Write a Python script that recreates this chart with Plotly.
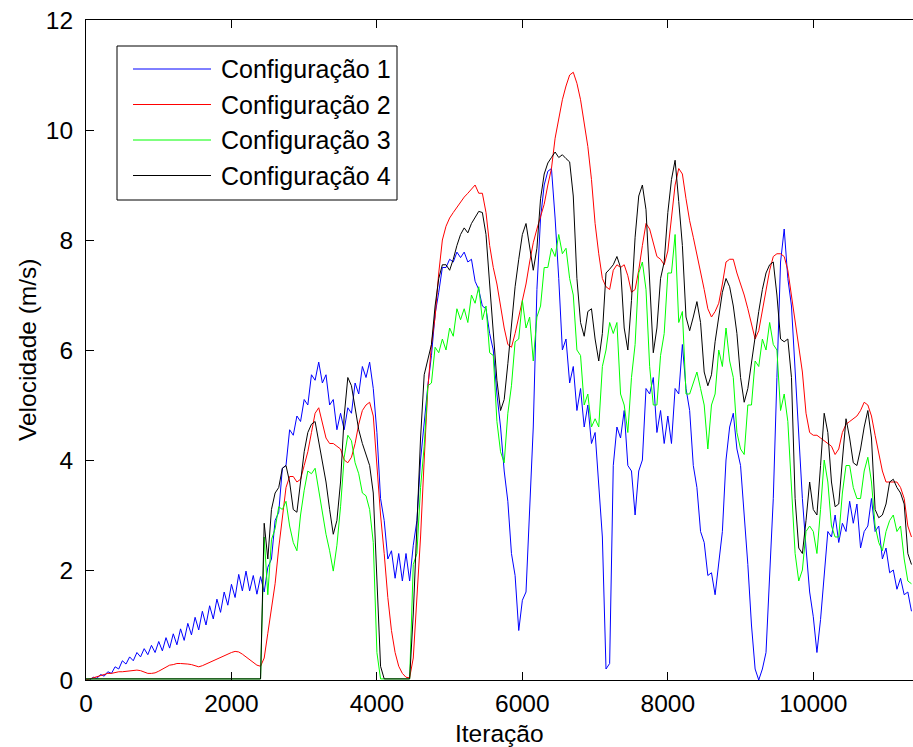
import plotly.graph_objects as go

# ---------------- data ----------------
iteracao = list(range(0, 11351, 50))  # 228 samples

config1 = [
    0.00, 0.00, 0.05, 0.03, 0.10, 0.07, 0.15, 0.12, 0.24, 0.20, 0.35, 0.29, 0.42, 0.35, 0.50, 0.42, 0.57, 0.46, 0.63, 0.50,
    0.70, 0.53, 0.77, 0.58, 0.84, 0.64, 0.93, 0.72, 1.03, 0.82, 1.14, 0.91, 1.25, 1.00, 1.35, 1.11, 1.47, 1.23, 1.60, 1.36,
    1.74, 1.50, 1.92, 1.62, 1.98, 1.62, 1.90, 1.56, 1.88, 1.60, 2.05, 2.20, 2.90, 3.05, 3.85, 3.90, 4.55, 4.45, 4.80, 4.70,
    5.10, 5.00, 5.55, 5.45, 5.78, 5.40, 5.55, 5.00, 5.10, 4.55, 4.85, 4.55, 4.95, 4.85, 5.40, 5.20, 5.70, 5.50, 5.78, 5.30,
    4.50, 3.30, 2.90, 2.20, 2.35, 1.85, 2.30, 1.80, 2.30, 1.80, 2.45, 2.90, 4.00, 4.70, 5.35, 5.90, 6.65, 7.05, 7.50, 7.50,
    7.65, 7.60, 7.78, 7.68, 7.78, 7.60, 7.65, 7.25, 7.10, 6.80, 6.75, 6.30, 6.00, 5.20, 4.60, 3.80, 3.25, 2.30, 1.90, 0.90,
    1.45, 1.60, 3.20, 4.60, 7.10, 8.40, 9.00, 9.25, 9.30, 8.40, 7.30, 6.00, 6.20, 5.40, 5.70, 4.90, 5.30, 4.60, 5.00, 4.30,
    4.50, 3.60, 2.60, 0.20, 0.30, 3.90, 4.60, 4.40, 4.90, 3.90, 3.80, 3.00, 3.80, 4.00, 5.30, 5.20, 5.50, 4.50, 4.90, 4.30,
    4.80, 4.30, 5.30, 5.20, 6.10, 5.30, 4.90, 3.90, 3.50, 2.70, 2.50, 1.90, 1.95, 1.55, 2.10, 2.70, 4.00, 4.60, 4.85, 4.20,
    3.90, 3.00, 2.10, 1.00, 0.20, 0.00, 0.20, 0.50, 2.00, 3.30, 5.50, 7.60, 8.20, 7.30, 6.80, 5.60, 4.50, 3.30, 2.40, 1.60,
    1.15, 0.50, 1.10, 1.90, 2.70, 2.60, 3.00, 2.50, 2.85, 2.70, 3.25, 2.85, 3.20, 2.40, 2.70, 2.80, 3.30, 2.70, 2.80, 2.20,
    2.40, 1.95, 2.00, 1.65, 1.85, 1.55, 1.60, 1.25,
]

config2 = [
    0.00, 0.02, 0.04, 0.06, 0.08, 0.10, 0.12, 0.12, 0.14, 0.15, 0.15, 0.16, 0.17, 0.18, 0.18, 0.17, 0.15, 0.12, 0.12, 0.13,
    0.16, 0.20, 0.24, 0.27, 0.28, 0.30, 0.30, 0.30, 0.29, 0.28, 0.26, 0.24, 0.26, 0.29, 0.32, 0.35, 0.38, 0.41, 0.44, 0.48,
    0.50, 0.52, 0.51, 0.47, 0.42, 0.36, 0.32, 0.27, 0.25, 0.40, 0.85, 1.30, 1.75, 2.40, 3.00, 3.50, 3.70, 3.70, 3.60, 3.65,
    3.90, 4.15, 4.50, 4.85, 4.95, 4.70, 4.40, 4.30, 4.30, 4.25, 4.20, 4.00, 3.95, 4.05, 4.30, 4.65, 4.90, 5.00, 5.05, 4.80,
    3.90, 3.00, 2.30, 1.50, 0.90, 0.50, 0.25, 0.12, 0.05, 0.04, 0.40, 1.40, 2.60, 4.00, 5.30, 6.10, 6.60, 7.40, 8.00, 8.25,
    8.40, 8.50, 8.60, 8.70, 8.78, 8.85, 8.92, 9.00, 8.85, 8.85, 8.50, 7.90, 7.50, 7.20, 6.80, 6.40, 6.10, 6.05, 6.30, 6.60,
    6.85, 7.20, 7.60, 7.95, 8.20, 8.45, 8.65, 9.00, 9.30, 9.85, 10.20, 10.55, 10.80, 11.00, 11.05, 10.85, 10.55, 10.10, 9.70, 9.10,
    8.30, 7.75, 7.30, 7.15, 7.10, 7.45, 7.55, 7.50, 7.55, 7.35, 7.05, 7.10, 7.45, 7.90, 8.30, 8.20, 7.95, 7.70, 7.65, 7.55,
    7.80, 8.40, 9.00, 9.30, 9.20, 8.75, 8.35, 8.05, 7.75, 7.45, 7.10, 6.75, 6.60, 6.70, 6.85, 7.20, 7.60, 7.65, 7.65, 7.40,
    7.20, 7.00, 6.75, 6.45, 6.20, 6.35, 6.70, 7.10, 7.45, 7.70, 7.75, 7.75, 7.70, 7.45, 7.00, 6.50, 6.10, 5.60, 4.85, 4.50,
    4.45, 4.45, 4.40, 4.35, 4.30, 4.25, 4.10, 4.20, 4.50, 4.65, 4.70, 4.75, 4.80, 4.90, 5.05, 5.00, 4.80, 4.45, 4.15, 3.80,
    3.60, 3.60, 3.60, 3.60, 3.50, 3.30, 2.80, 2.60,
]

config3 = [
    0.02, 0.02, 0.02, 0.02, 0.02, 0.02, 0.02, 0.02, 0.02, 0.02, 0.02, 0.02, 0.02, 0.02, 0.02, 0.02, 0.02, 0.02, 0.02, 0.02,
    0.02, 0.02, 0.02, 0.02, 0.02, 0.02, 0.02, 0.02, 0.02, 0.02, 0.02, 0.02, 0.02, 0.02, 0.02, 0.02, 0.02, 0.02, 0.02, 0.02,
    0.02, 0.02, 0.02, 0.02, 0.02, 0.02, 0.02, 0.02, 0.02, 2.60, 1.55, 2.55, 2.75, 3.15, 3.10, 3.25, 2.80, 2.50, 2.35, 3.00,
    3.45, 3.80, 3.75, 3.85, 3.45, 3.05, 2.65, 2.35, 1.98, 2.45, 3.15, 4.05, 4.45, 4.35, 3.95, 3.75, 3.40, 3.35, 3.10, 2.50,
    0.50, 0.02, 0.02, 0.02, 0.02, 0.02, 0.02, 0.02, 0.02, 0.02, 2.10, 2.30, 3.50, 4.25, 5.35, 5.40, 6.05, 5.95, 6.20, 6.00,
    6.40, 6.25, 6.75, 6.55, 6.75, 6.50, 7.00, 6.85, 7.15, 6.55, 6.80, 5.95, 5.90, 4.70, 4.15, 3.95, 4.85, 5.35, 6.15, 6.20,
    6.90, 6.40, 6.60, 5.80, 6.60, 6.80, 7.50, 7.50, 7.85, 7.70, 8.10, 7.75, 7.85, 7.30, 7.00, 6.00, 5.90, 5.00, 5.20, 4.60,
    4.75, 4.60, 5.70, 6.00, 6.50, 6.30, 6.50, 5.20, 5.00, 4.50, 5.50, 6.10, 7.40, 7.60, 7.10, 5.70, 5.00, 5.00, 5.90, 6.30,
    7.40, 7.40, 8.10, 6.50, 6.70, 5.20, 5.20, 5.40, 5.60, 5.30, 5.00, 4.20, 5.00, 5.20, 6.00, 5.70, 6.40, 5.80, 5.50, 4.50,
    4.20, 4.10, 5.00, 5.00, 5.80, 5.70, 6.20, 6.00, 6.50, 6.10, 6.00, 4.90, 5.20, 4.70, 3.60, 2.30, 1.80, 2.00, 2.70, 2.80,
    2.70, 2.30, 3.10, 4.00, 3.60, 2.80, 2.60, 2.60, 3.40, 3.90, 3.90, 3.50, 3.30, 3.30, 3.80, 4.05, 3.60, 2.80, 2.50, 2.35,
    2.70, 2.90, 3.00, 2.70, 2.80, 2.20, 1.80, 1.75,
]

config4 = [
    0.02, 0.02, 0.02, 0.02, 0.02, 0.02, 0.02, 0.02, 0.02, 0.02, 0.02, 0.02, 0.02, 0.02, 0.02, 0.02, 0.02, 0.02, 0.02, 0.02,
    0.02, 0.02, 0.02, 0.02, 0.02, 0.02, 0.02, 0.02, 0.02, 0.02, 0.02, 0.02, 0.02, 0.02, 0.02, 0.02, 0.02, 0.02, 0.02, 0.02,
    0.02, 0.02, 0.02, 0.02, 0.02, 0.02, 0.02, 0.02, 0.02, 2.85, 2.20, 3.10, 3.40, 3.50, 3.85, 3.90, 3.60, 3.10, 3.05, 3.60,
    4.15, 4.50, 4.65, 4.70, 4.35, 3.95, 3.60, 3.10, 2.65, 2.90, 3.60, 4.80, 5.50, 5.35, 4.95, 4.55, 4.30, 4.10, 3.90, 3.40,
    1.80, 0.25, 0.02, 0.02, 0.02, 0.02, 0.02, 0.02, 0.02, 0.02, 1.20, 2.90, 4.40, 5.55, 5.80, 6.10, 6.80, 7.30, 7.55, 7.55,
    7.45, 7.65, 7.90, 8.10, 8.22, 8.13, 8.30, 8.42, 8.52, 8.50, 8.10, 7.20, 6.30, 5.45, 4.90, 5.10, 5.75, 6.45, 7.15, 7.65,
    8.10, 8.30, 7.85, 7.45, 7.85, 8.75, 9.20, 9.40, 9.50, 9.60, 9.50, 9.55, 9.48, 9.42, 8.80, 7.30, 6.50, 6.25, 6.70, 6.75,
    6.20, 5.80, 6.30, 7.40, 7.47, 7.55, 7.70, 7.50, 6.40, 6.00, 6.90, 8.05, 8.80, 9.00, 8.55, 7.30, 5.95, 6.40, 7.30, 7.60,
    8.50, 9.10, 9.45, 8.70, 7.90, 6.60, 6.35, 6.60, 6.88, 6.50, 5.60, 5.35, 5.55, 6.15, 6.60, 7.05, 7.30, 7.15, 6.80, 6.30,
    5.50, 5.05, 5.30, 5.80, 6.20, 6.70, 7.10, 7.40, 7.55, 7.60, 7.00, 6.20, 6.15, 6.20, 5.50, 3.30, 2.40, 2.30, 2.90, 3.60,
    3.10, 3.00, 3.90, 4.85, 4.50, 3.60, 3.15, 3.20, 4.00, 4.75, 4.40, 3.95, 3.90, 4.20, 4.60, 4.90, 4.40, 3.10, 2.95, 3.00,
    3.20, 3.60, 3.65, 3.50, 3.40, 3.20, 2.30, 2.10,
]

series_names = ["Configuração 1", "Configuração 2", "Configuração 3", "Configuração 4"]
series_colors = ["#0000FF", "#FF0000", "#00FF00", "#000000"]
x_tick_values = [0, 2000, 4000, 6000, 8000, 10000]
x_tick_labels = ["0", "2000", "4000", "6000", "8000", "10000"]
y_tick_values = [0, 2, 4, 6, 8, 10, 12]
y_tick_labels = ["0", "2", "4", "6", "8", "10", "12"]

for s in (config1, config2, config3, config4):
    assert len(s) == len(iteracao), (len(s), len(iteracao))

# ---------------- figure ----------------
FONT = "Liberation Sans, Arial, Helvetica, sans-serif"
FS = 24.5
X_MAX = 11371

fig = go.Figure()
for name, ys, col in zip(series_names, [config1, config2, config3, config4], series_colors):
    fig.add_trace(go.Scatter(x=iteracao, y=ys, mode="lines", name=name,
                             line=dict(color=col, width=1), showlegend=False))

# dummy trace for the mirrored top axis
fig.add_trace(go.Scatter(x=[None], y=[None], xaxis="x2", showlegend=False, hoverinfo="skip"))

axis_common = dict(showgrid=False, zeroline=False, showline=True, linecolor="black",
                   linewidth=1, ticks="inside", ticklen=8, tickcolor="black", tickwidth=1,
                   tickfont=dict(family=FONT, size=FS, color="black"))

fig.update_layout(
    width=913, height=747,
    margin=dict(l=86, r=0, t=20, b=67),
    paper_bgcolor="white", plot_bgcolor="white",
    xaxis=dict(range=[0, X_MAX], tickvals=x_tick_values, ticktext=x_tick_labels,
               ticklabelstandoff=2, **axis_common),
    xaxis2=dict(range=[0, X_MAX], overlaying="x", side="top", tickvals=x_tick_values,
                showticklabels=False, **axis_common),
    yaxis=dict(range=[0, 12], tickvals=y_tick_values, ticktext=y_tick_labels,
               ticklabelstandoff=7, **axis_common),
)

# axis titles
fig.add_annotation(text="Iteração", xref="paper", yref="paper", x=0.5, y=(680 - 733) / 660,
                   xanchor="center", yanchor="middle", showarrow=False,
                   font=dict(family=FONT, size=FS, color="black"))
fig.add_annotation(text="Velocidade (m/s)", xref="paper", yref="paper", x=(27 - 86) / 827, y=0.5,
                   xanchor="center", yanchor="middle", showarrow=False, textangle=-90,
                   font=dict(family=FONT, size=FS, color="black"))

# manual legend (MATLAB style box)
def px_x(p):
    return (p - 86) / 827

def px_y(p):
    return (680 - p) / 660

fig.add_shape(type="rect", xref="paper", yref="paper",
              x0=px_x(117), x1=px_x(397), y0=px_y(200), y1=px_y(46),
              line=dict(color="black", width=1), fillcolor="white", layer="above")
row_y = [69, 104.5, 140, 175.5]
for name, col, ry in zip(series_names, series_colors, row_y):
    fig.add_shape(type="line", xref="paper", yref="paper",
                  x0=px_x(133), x1=px_x(211), y0=px_y(ry), y1=px_y(ry),
                  line=dict(color=col, width=1), layer="above")
    fig.add_annotation(text=name, xref="paper", yref="paper", x=px_x(219), y=px_y(ry),
                       xanchor="left", yanchor="middle", showarrow=False,
                       font=dict(family=FONT, size=FS + 0.5, color="black"))

fig.write_html("out.html")
